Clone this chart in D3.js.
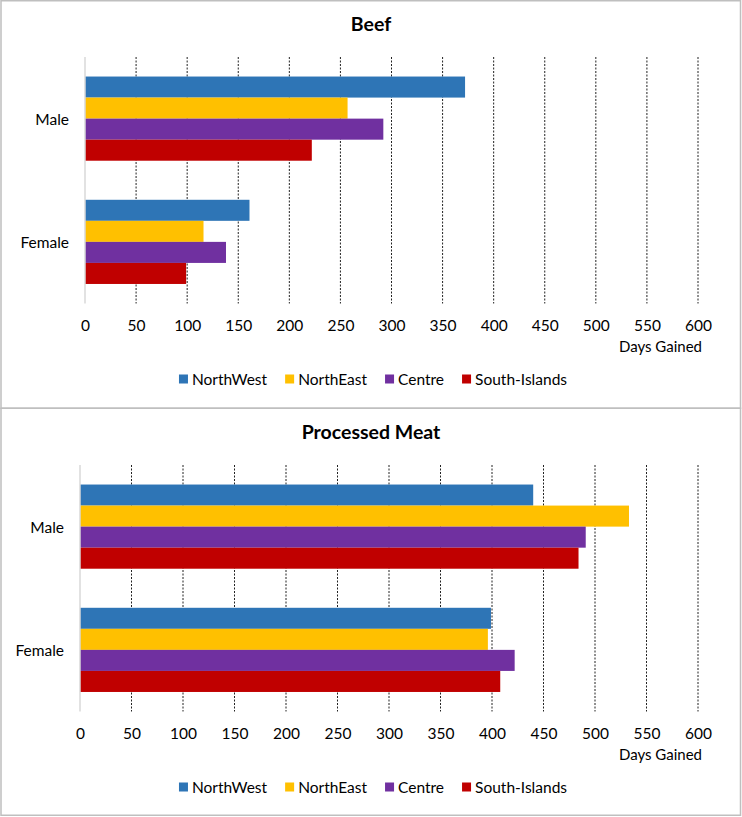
<!DOCTYPE html>
<html><head><meta charset="utf-8">
<script src="https://cdn.jsdelivr.net/npm/d3@7/dist/d3.min.js"></script>
<style>
html,body{margin:0;padding:0;background:#fff;}
svg{display:block;font-family:Lato,"Open Sans",sans-serif;}
</style></head>
<body>
<svg id="chart" width="742" height="817"></svg>
<script>
const categories = ["Male", "Female"];
const seriesNames = ["NorthWest", "NorthEast", "Centre", "South-Islands"];
const seriesColors = ["#2E75B6", "#FFC000", "#7030A0", "#C00000"];
const beefMale = [372, 257, 292, 222];
const beefFemale = [161, 116, 138, 99];
const meatMale = [440, 533, 491, 484];
const meatFemale = [399, 396, 422, 408];
const tickValues = [0, 50, 100, 150, 200, 250, 300, 350, 400, 450, 500, 550, 600];
const axisTitle = "Days Gained";

const svg = d3.select("#chart");

// panel borders
svg.append("rect").attr("x", 1).attr("y", 0.75).attr("width", 739.5).attr("height", 407.5)
  .attr("fill", "none").attr("stroke", "#bfbfbf").attr("stroke-width", 1.5);
svg.append("rect").attr("x", 1).attr("y", 408.25).attr("width", 739.5).attr("height", 407)
  .attr("fill", "none").attr("stroke", "#bfbfbf").attr("stroke-width", 1.5);

function drawPanel(top, title, maleVals, femaleVals, x0, x1) {
  const g = svg.append("g").attr("transform", `translate(0,${top})`);
  const plotTop = 57, plotBottom = 303.5;
  const x = d3.scaleLinear().domain([0, 600]).range([x0, x1]);
  const y = d3.scaleBand().domain(categories).range([plotTop, plotBottom])
    .paddingInner(0.317).paddingOuter(0.1585);
  const ySub = d3.scaleBand().domain(seriesNames).range([0, y.bandwidth()]);
  const rows = [maleVals, femaleVals];

  g.append("text").attr("x", 371).attr("y", 23).attr("text-anchor", "middle")
    .attr("dominant-baseline", "central").attr("font-weight", "bold").attr("font-size", 19.5)
    .attr("fill", "#000").text(title);

  // grid
  g.append("g").selectAll("line").data(tickValues.filter(d => d > 0)).join("line")
    .attr("x1", d => x(d)).attr("x2", d => x(d)).attr("y1", plotTop).attr("y2", plotBottom)
    .attr("stroke", "#222").attr("stroke-width", 1).attr("stroke-dasharray", "2,1.5");

  // bars
  categories.forEach((c, ci) => {
    g.append("g").selectAll("rect").data(rows[ci]).join("rect")
      .attr("x", x(0)).attr("y", (d, i) => y(c) + ySub(seriesNames[i]))
      .attr("width", d => x(d) - x(0)).attr("height", ySub.bandwidth())
      .attr("fill", (d, i) => seriesColors[i]);
  });

  // axis line
  g.append("line").attr("x1", x(0)).attr("x2", x(0)).attr("y1", plotTop).attr("y2", plotBottom)
    .attr("stroke", "#d9d9d9").attr("stroke-width", 1.5);

  // x tick labels via d3 axis
  const ax = g.append("g").attr("transform", `translate(0,${plotBottom})`)
    .call(d3.axisBottom(x).tickValues(tickValues).tickSize(0).tickPadding(0).tickFormat(d3.format("d")));
  ax.select(".domain").remove();
  ax.selectAll("text").attr("font-size", 15.5).attr("fill", "#000")
    .attr("font-family", "Lato,'Open Sans',sans-serif")
    .attr("dy", null).attr("y", 21).attr("dominant-baseline", "central");

  // category labels
  g.append("g").selectAll("text").data(categories).join("text")
    .attr("x", x0 - 16).attr("y", d => y(d) + y.bandwidth() / 2)
    .attr("text-anchor", "end").attr("dominant-baseline", "central")
    .attr("font-size", 15.5).attr("fill", "#000").text(d => d);

  g.append("text").attr("x", 702).attr("y", 346).attr("text-anchor", "end")
    .attr("dominant-baseline", "central").attr("font-size", 15).attr("fill", "#000").text(axisTitle);

  // legend
  const lg = g.append("g");
  let cx = 0;
  seriesNames.forEach((s, i) => {
    const it = lg.append("g");
    it.append("rect").attr("x", 0).attr("y", -4.5).attr("width", 9).attr("height", 9).attr("fill", seriesColors[i]);
    const t = it.append("text").attr("x", 13).attr("y", 0).attr("dominant-baseline", "central")
      .attr("font-size", 15.5).attr("fill", "#000").text(s);
    const w = 13 + t.node().getComputedTextLength();
    it.attr("transform", `translate(${cx},0)`);
    cx += w + 18;
  });
  const total = cx - 18;
  lg.attr("transform", `translate(${373 - total / 2},379)`);
}

drawPanel(0, "Beef", beefMale, beefFemale, 85, 698);
drawPanel(408, "Processed Meat", meatMale, meatFemale, 80, 698);
</script>
</body></html>
